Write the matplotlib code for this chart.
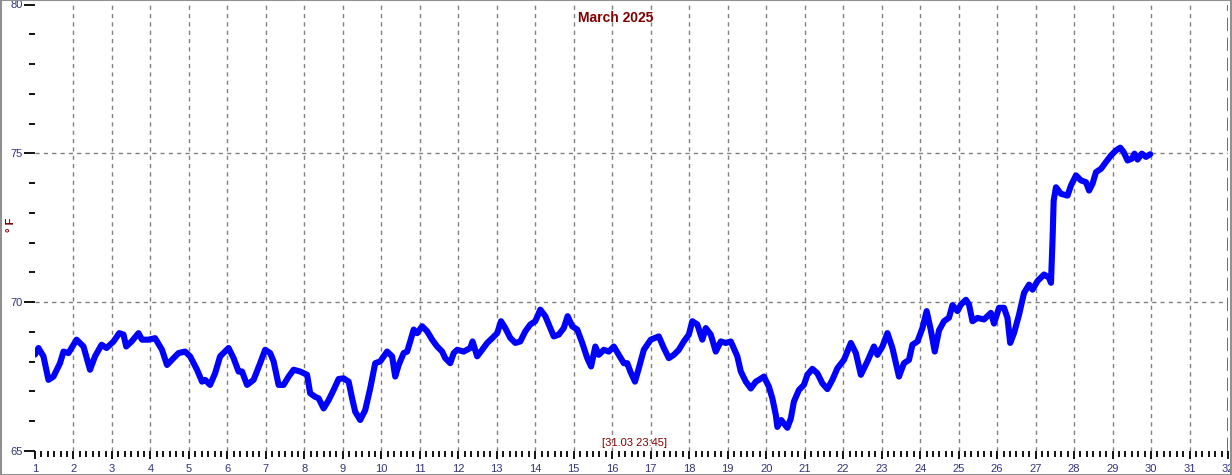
import matplotlib
matplotlib.use("Agg")
import matplotlib.pyplot as plt
from matplotlib.patches import Rectangle
from matplotlib.ticker import MultipleLocator

# Day of month (fractional) and temperature (°F)
days = [1.00, 1.09, 1.22, 1.35, 1.48, 1.65, 1.74, 1.87, 2.08, 2.26, 2.43, 2.56, 2.73, 2.86,
        3.04, 3.19, 3.30, 3.37, 3.51, 3.69, 3.78, 3.95, 4.12, 4.30, 4.43, 4.60, 4.73, 4.90,
        5.03, 5.21, 5.34, 5.42, 5.55, 5.68, 5.81, 6.03, 6.16, 6.29, 6.38, 6.51, 6.68, 6.85,
        6.98, 7.11, 7.20, 7.33, 7.46, 7.59, 7.72, 7.89, 8.07, 8.15, 8.28, 8.37, 8.50, 8.63,
        8.76, 8.89, 9.02, 9.15, 9.24, 9.32, 9.45, 9.58, 9.71, 9.84, 9.97, 10.15, 10.28, 10.36,
        10.45, 10.58, 10.67, 10.75, 10.84, 10.93, 11.06, 11.19, 11.32, 11.45, 11.58, 11.66,
        11.79, 11.88, 11.97, 12.14, 12.31, 12.37, 12.49, 12.62, 12.75, 12.88, 13.01, 13.11,
        13.22, 13.35, 13.48, 13.61, 13.74, 13.87, 14.00, 14.13, 14.26, 14.39, 14.48, 14.61,
        14.74, 14.84, 14.96, 15.09, 15.22, 15.35, 15.45, 15.56, 15.65, 15.78, 15.91, 16.04,
        16.17, 16.30, 16.39, 16.47, 16.59, 16.69, 16.82, 17.00, 17.21, 17.34, 17.47, 17.60,
        17.73, 17.86, 17.99, 18.08, 18.21, 18.34, 18.43, 18.56, 18.69, 18.82, 18.95, 19.08,
        19.25, 19.34, 19.47, 19.60, 19.73, 19.81, 19.94, 20.07, 20.16, 20.25, 20.29, 20.39,
        20.55, 20.64, 20.72, 20.85, 20.98, 21.07, 21.20, 21.33, 21.46, 21.59, 21.72, 21.85,
        22.02, 22.20, 22.33, 22.46, 22.63, 22.80, 22.89, 23.02, 23.15, 23.28, 23.45, 23.58,
        23.71, 23.80, 23.93, 24.06, 24.17, 24.28, 24.38, 24.49, 24.62, 24.75, 24.84, 24.97,
        25.06, 25.19, 25.27, 25.36, 25.49, 25.66, 25.84, 25.92, 26.05, 26.18, 26.27, 26.34,
        26.44, 26.57, 26.70, 26.83, 26.92, 27.05, 27.22, 27.35, 27.40, 27.44, 27.47, 27.53,
        27.66, 27.83, 27.92, 28.05, 28.18, 28.31, 28.39, 28.48, 28.57, 28.70, 28.83, 28.96,
        29.09, 29.20, 29.29, 29.39, 29.50, 29.57, 29.65, 29.76, 29.87, 29.98]

temps = [68.24, 68.46, 68.18, 67.39, 67.50, 67.95, 68.34, 68.29, 68.74, 68.51, 67.73, 68.18,
         68.57, 68.46, 68.68, 68.96, 68.91, 68.51, 68.68, 68.96, 68.74, 68.74, 68.79, 68.40,
         67.89, 68.12, 68.29, 68.34, 68.18, 67.73, 67.33, 67.39, 67.22, 67.61, 68.18, 68.46,
         68.12, 67.67, 67.67, 67.22, 67.39, 67.95, 68.40, 68.29, 68.01, 67.22, 67.22, 67.50,
         67.73, 67.67, 67.56, 66.94, 66.82, 66.77, 66.43, 66.71, 67.05, 67.42, 67.44, 67.33,
         66.77, 66.32, 66.04, 66.37, 67.10, 67.95, 68.01, 68.34, 68.18, 67.50, 67.89, 68.29,
         68.34, 68.68, 69.08, 68.96, 69.19, 69.02, 68.74, 68.51, 68.34, 68.12, 67.95, 68.29,
         68.40, 68.34, 68.46, 68.68, 68.18, 68.40, 68.63, 68.79, 68.96, 69.36, 69.13, 68.80,
         68.63, 68.68, 69.02, 69.25, 69.36, 69.75, 69.53, 69.13, 68.85, 68.91, 69.13, 69.53,
         69.19, 69.08, 68.63, 68.12, 67.84, 68.51, 68.23, 68.40, 68.34, 68.51, 68.23, 67.95,
         67.95, 67.67, 67.33, 67.78, 68.40, 68.74, 68.85, 68.46, 68.12, 68.23, 68.40, 68.68,
         68.91, 69.36, 69.25, 68.74, 69.13, 68.91, 68.34, 68.68, 68.63, 68.68, 68.18, 67.67,
         67.33, 67.10, 67.33, 67.39, 67.50, 67.16, 66.77, 66.21, 65.81, 66.04, 65.78, 66.09,
         66.66, 67.05, 67.22, 67.56, 67.76, 67.61, 67.27, 67.08, 67.39, 67.78, 68.06, 68.63,
         68.29, 67.56, 68.01, 68.51, 68.23, 68.51, 68.96, 68.46, 67.50, 67.95, 68.06, 68.57,
         68.68, 69.13, 69.70, 69.05, 68.34, 69.05, 69.36, 69.48, 69.90, 69.70, 69.92, 70.08,
         69.92, 69.36, 69.47, 69.42, 69.64, 69.28, 69.81, 69.81, 69.47, 68.63, 68.96, 69.58,
         70.31, 70.59, 70.42, 70.71, 70.93, 70.82, 70.65, 72.06, 73.41, 73.86, 73.64, 73.58,
         73.92, 74.26, 74.09, 74.03, 73.75, 73.98, 74.37, 74.48, 74.71, 74.93, 75.10, 75.19,
         75.04, 74.76, 74.82, 74.99, 74.79, 74.99, 74.88, 74.97]

day_ticks = list(range(1, 33))
temp_ticks = [65, 70, 75, 80]
title = "March 2025"
stamp = "[31.03 23:45]"
ylabel = "° F"

plt.rcParams['font.family'] = ['Liberation Sans', 'DejaVu Sans']

fig = plt.figure(figsize=(12.32, 4.75), dpi=100)
fig.patch.set_facecolor('white')
ax = fig.add_axes([35 / 1232, 1 - 451 / 475, (1228 - 35) / 1232, (451 - 4.5) / 475])

ax.set_xlim(1, 32)
ax.set_ylim(65, 80)

for s in ax.spines.values():
    s.set_visible(False)

# grid
for d in day_ticks[1:-1]:
    ax.axvline(d, color='#808080', lw=1.0, ls=(0, (3, 3)), zorder=1)
for t in [70, 75]:
    ax.axhline(t, color='#808080', lw=1.0, ls=(0, (3, 3)), zorder=1)
ax.axvline(32, color='#1a7a1a', lw=1.2, ls=(0, (8, 4)), zorder=1)

ax.plot(days, temps, color='#0000ff', lw=4.4, solid_joinstyle='round',
        solid_capstyle='round', zorder=3)

ax.set_xticks(day_ticks)
ax.set_xticklabels([str(d) for d in day_ticks])
ax.xaxis.set_minor_locator(MultipleLocator(1 / 6))
ax.set_yticks(temp_ticks)
ax.set_yticklabels([str(t) for t in temp_ticks])
ax.yaxis.set_minor_locator(MultipleLocator(1))

lab_col = '#33337a'
ax.tick_params(axis='x', which='major', direction='out', length=6, width=1.3,
               color='black', labelsize=8, labelcolor=lab_col, pad=3)
ax.tick_params(axis='x', which='minor', direction='out', length=4, width=1.3, color='black')
ax.tick_params(axis='y', which='major', direction='out', length=8, width=1.3,
               color='black', labelsize=8, labelcolor=lab_col, pad=1)
ax.tick_params(axis='y', which='minor', direction='out', length=4, width=1.3, color='black')

fig.text(0.5, 1 - 18 / 475, title, color='#800000', fontsize=10, fontweight='bold',
         ha='center', va='center')
fig.text(635 / 1232, 1 - 443 / 475, stamp, color='#800000', fontsize=8,
         ha='center', va='center')
fig.text(11 / 1232, 1 - 225 / 475, ylabel, color='#800000', fontsize=8, fontweight='bold',
         rotation=90, ha='center', va='center')

fig.patches.append(Rectangle((0.0005, 0.001), 0.999, 0.998, transform=fig.transFigure,
                             fill=False, edgecolor='#909090', lw=1.5))

fig.savefig('out.png', dpi=100, facecolor='white')
